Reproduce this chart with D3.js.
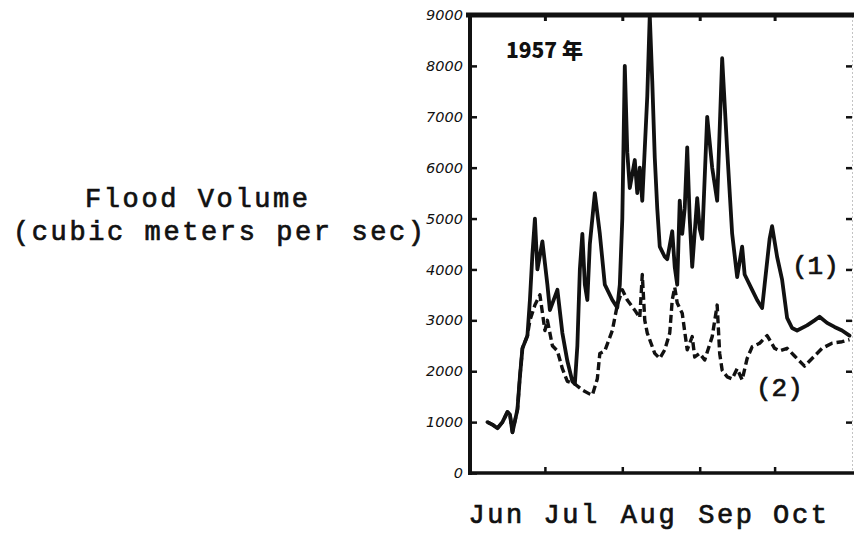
<!DOCTYPE html>
<html>
<head>
<meta charset="utf-8">
<script src="https://cdn.jsdelivr.net/npm/d3@7"></script>
<style>
  body { margin: 0; background: #fff; }
  svg { display: block; }
  .type { font-family: "Liberation Mono", "DejaVu Sans Mono", monospace; fill: #111; stroke: #111; stroke-width: 0.7px; }
  .ylab { font-family: "DejaVu Sans", sans-serif; font-style: italic; font-size: 14.5px; fill: #111; }
</style>
</head>
<body>
<svg id="chart" width="854" height="536"></svg>
<script>
// month labels and y ticks
const months = ["Jun", "Jul", "Aug", "Sep", "Oct"];
const monthStarts = ["1957-06-01", "1957-07-01", "1957-08-01", "1957-09-01", "1957-10-01"];
const yTicks = [0, 1000, 2000, 3000, 4000, 5000, 6000, 7000, 8000, 9000];

// series (1) - solid
const dates1 = ["06-08","06-10","06-12","06-14","06-16","06-17","06-18","06-20","06-21","06-22","06-24","06-25","06-26","06-27","06-28","06-30",
  "07-02","07-03","07-06","07-08","07-10","07-12","07-13","07-14","07-15","07-16","07-17","07-18","07-19","07-21","07-23","07-25","07-28","07-30","07-31",
  "08-01","08-02","08-03","08-04","08-06","08-07","08-08","08-09","08-11","08-12","08-13","08-14","08-15","08-16","08-18","08-19","08-21","08-22","08-23",
  "08-24","08-25","08-26","08-27","08-28","08-29","08-31",
  "09-01","09-02","09-04","09-06","09-08","09-10","09-12","09-14","09-16","09-18","09-19","09-22","09-24","09-26","09-27","09-29","09-30",
  "10-02","10-04","10-06","10-08","10-10","10-14","10-17","10-19","10-22","10-25","10-28","10-31"];
const flow1 = [1000,950,880,1000,1200,1150,800,1250,1900,2450,2700,3400,4300,5000,4000,4550,
  3700,3200,3600,2750,2200,1800,1750,2500,4000,4700,3700,3400,4500,5500,4700,3700,3400,3250,3700,
  5000,8000,6300,5600,6150,5500,6000,5350,7400,9000,7700,6200,5200,4450,4250,4200,4750,4050,3700,
  5350,4700,5200,6400,5000,4050,5400,
  4800,4600,7000,6000,5350,8150,6350,4700,3850,4450,3900,3600,3400,3240,3700,4600,4850,
  4250,3800,3050,2850,2800,2900,3000,3070,2950,2870,2800,2700];

// series (2) - dashed
const dates2 = ["06-08","06-10","06-12","06-14","06-16","06-17","06-18","06-20","06-21","06-22","06-24","06-25","06-27","06-29",
  "07-01","07-02","07-04","07-06","07-08","07-10","07-13","07-16","07-19","07-20","07-22","07-23","07-25","07-28","07-30",
  "08-01","08-03","08-06","08-08","08-09","08-10","08-11","08-14","08-16","08-18","08-20","08-21","08-22","08-23","08-25","08-27","08-29","08-30",
  "09-01","09-03","09-06","09-08","09-09","09-10","09-12","09-14","09-16","09-18","09-20","09-22","09-25","09-28",
  "10-01","10-03","10-06","10-09","10-12","10-13","10-16","10-20","10-24","10-28","10-31"];
const flow2 = [1000,950,880,1000,1200,1150,800,1250,1900,2450,2700,3000,3300,3500,
  2800,3000,2500,2400,2050,1800,1750,1630,1550,1530,1850,2350,2400,2800,3300,
  3600,3400,3200,3050,3900,3000,2750,2350,2250,2420,2750,3400,3650,3340,3140,2420,2680,2280,
  2350,2220,2680,3300,2350,2020,1890,1850,2050,1830,2250,2480,2550,2700,
  2450,2400,2450,2300,2150,2100,2250,2450,2550,2580,2620];

const parse = d3.utcParse("%Y-%m-%d");
const svg = d3.select("#chart");

const plotLeft = 470, plotRight = 852, plotTop = 15, plotBottom = 473;

const x = d3.scaleUtc()
  .domain([parse("1957-06-01"), parse("1957-11-01")])
  .range([plotLeft, plotRight]);
const y = d3.scaleLinear().domain([0, 9000]).range([plotBottom, plotTop]);

const s1 = dates1.map((d, i) => ({ date: parse("1957-" + d), v: flow1[i] }));
const s2 = dates2.map((d, i) => ({ date: parse("1957-" + d), v: flow2[i] }));

const line = d3.line().x(d => x(d.date)).y(d => y(d.v));

// data lines
svg.append("path").datum(s2)
  .attr("d", line).attr("fill", "none").attr("stroke", "#111")
  .attr("stroke-width", 3.4).attr("stroke-dasharray", "8,4")
  .attr("stroke-linejoin", "round");

svg.append("path").datum(s1)
  .attr("d", line).attr("fill", "none").attr("stroke", "#111")
  .attr("stroke-width", 3.8).attr("stroke-linejoin", "round").attr("stroke-linecap", "round");

// right edge (faint, dotted) with inward ticks
const rAxis = svg.append("g").attr("transform", `translate(${plotRight},0)`)
  .call(d3.axisRight(y).tickValues(yTicks.slice(1, -1)).tickSize(-6).tickSizeOuter(0).tickFormat(""));
rAxis.select(".domain").attr("stroke", "#888").attr("stroke-dasharray", "1,3");
rAxis.selectAll(".tick line").attr("stroke", "#111").attr("stroke-width", 2.5);

// top border
const tAxis = svg.append("g").attr("transform", `translate(0,${plotTop})`)
  .call(d3.axisTop(x).tickValues(monthStarts.slice(1).map(parse)).tickSize(-6).tickSizeOuter(0).tickFormat(""));
tAxis.select(".domain").attr("stroke", "#111").attr("stroke-width", 5)
  .attr("d", `M${plotLeft - 4},0H854`);
tAxis.selectAll(".tick line").attr("stroke", "#111").attr("stroke-width", 3);

// bottom axis with month labels
const bAxis = svg.append("g").attr("transform", `translate(0,${plotBottom})`)
  .call(d3.axisBottom(x).tickValues(monthStarts.map(parse)).tickSize(-6).tickSizeOuter(0)
    .tickPadding(31).tickFormat((d, i) => months[i]));
bAxis.select(".domain").attr("stroke", "#111").attr("stroke-width", 3.5)
  .attr("d", `M${plotLeft - 2},0H854`);
bAxis.selectAll(".tick line").attr("stroke", "#111").attr("stroke-width", 2.5);
bAxis.selectAll(".tick text").attr("class", "type")
  .attr("text-anchor", "start").attr("x", -2)
  .style("font-size", "27px").style("letter-spacing", "2.6px");

// left axis
const lAxis = svg.append("g").attr("transform", `translate(${plotLeft},0)`)
  .call(d3.axisLeft(y).tickValues(yTicks).tickSize(-7).tickSizeOuter(0).tickPadding(7).tickFormat(d3.format("d")));
lAxis.select(".domain").attr("stroke", "#111").attr("stroke-width", 4)
  .attr("d", `M0,${plotTop - 2}V${plotBottom + 2}`);
lAxis.selectAll(".tick line").attr("stroke", "#111").attr("stroke-width", 2.5);
lAxis.selectAll(".tick text").attr("class", "ylab");

// y axis title
svg.append("text").attr("class", "type").attr("x", 85).attr("y", 207)
  .style("font-size", "27px").style("letter-spacing", "2.6px").text("Flood Volume");
svg.append("text").attr("class", "type").attr("x", 13).attr("y", 240)
  .style("font-size", "27px").style("letter-spacing", "2.6px").text("(cubic meters per sec)");

// year label inside plot
svg.append("text").attr("x", 506).attr("y", 58)
  .style("font-family", "'Noto Sans CJK SC', sans-serif").style("font-weight", "900")
  .style("font-size", "21px").attr("fill", "#111").text("1957 年");

// series labels
svg.append("text").attr("class", "type").attr("x", 792).attr("y", 274)
  .style("font-size", "26px").text("(1)");
svg.append("text").attr("class", "type").attr("x", 756).attr("y", 396)
  .style("font-size", "26px").text("(2)");
</script>
</body>
</html>
